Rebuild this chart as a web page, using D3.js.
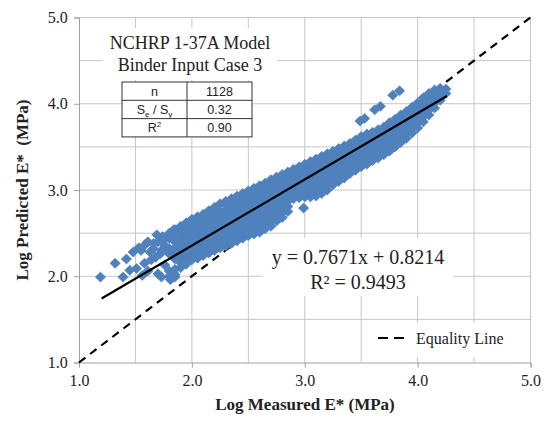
<!DOCTYPE html>
<html>
<head>
<meta charset="utf-8">
<script src="https://cdn.jsdelivr.net/npm/d3@7"></script>
<style>
  body { margin: 0; background: #fff; }
</style>
</head>
<body>
<svg id="chart"></svg>
<script>
// axis ticks
const xTicks = [1, 2, 3, 4, 5];
const yTicks = [1, 2, 3, 4, 5];
const gridVals = [1.5, 2, 2.5, 3, 3.5, 4, 4.5, 5];

// sparse points at the low end (measured, predicted)
const sparseMeasured = [1.19, 1.32, 1.42, 1.45, 1.39, 1.48, 1.51, 1.53, 1.55, 1.56, 1.58, 1.58, 1.61, 1.61, 1.64, 1.66, 1.69, 1.70, 1.73, 1.73, 1.75, 1.76, 1.79, 1.81, 1.84, 1.85, 1.63, 1.66, 1.68, 1.70, 1.72, 1.74, 1.76, 1.78];
const sparsePredicted = [1.99, 2.15, 2.20, 2.07, 1.99, 2.28, 2.09, 2.33, 2.30, 2.01, 2.15, 2.36, 2.06, 2.40, 2.19, 2.38, 2.48, 2.03, 1.99, 2.30, 2.42, 2.13, 2.46, 1.96, 2.54, 1.99, 2.28, 2.32, 2.22, 2.40, 2.26, 2.46, 2.36, 2.30];

// dense band, read column by column (measured value -> predicted values)
const bandMeasured = [1.80, 1.85, 1.90, 1.95, 2.00, 2.05, 2.10, 2.15, 2.20, 2.25, 2.30, 2.35, 2.40, 2.45, 2.50, 2.55, 2.60, 2.65, 2.70, 2.75, 2.80, 2.85, 2.90, 2.95, 3.00, 3.05, 3.10, 3.15, 3.20, 3.25, 3.30, 3.35, 3.40, 3.45, 3.50, 3.55, 3.60, 3.65, 3.70, 3.75, 3.80, 3.85, 3.90, 3.95, 4.00, 4.05, 4.10, 4.15, 4.20, 4.25];
const bandPredicted = [
  [2.00, 2.06, 2.26, 2.32, 2.44, 2.50],
  [2.02, 2.08, 2.20, 2.27, 2.33, 2.40, 2.47, 2.54],
  [2.10, 2.16, 2.22, 2.28, 2.34, 2.40, 2.46, 2.52, 2.58],
  [2.14, 2.20, 2.26, 2.32, 2.38, 2.44, 2.50, 2.56, 2.62],
  [2.19, 2.25, 2.31, 2.37, 2.43, 2.49, 2.55, 2.61, 2.66],
  [2.21, 2.27, 2.33, 2.39, 2.45, 2.51, 2.57, 2.63, 2.69],
  [2.24, 2.30, 2.36, 2.42, 2.48, 2.54, 2.60, 2.66, 2.72],
  [2.27, 2.33, 2.39, 2.45, 2.51, 2.57, 2.63, 2.69, 2.76],
  [2.30, 2.36, 2.42, 2.48, 2.54, 2.60, 2.66, 2.72, 2.80],
  [2.33, 2.39, 2.45, 2.51, 2.57, 2.63, 2.69, 2.75, 2.84],
  [2.35, 2.41, 2.47, 2.53, 2.59, 2.65, 2.71, 2.77, 2.83, 2.87],
  [2.38, 2.44, 2.50, 2.56, 2.62, 2.68, 2.74, 2.80, 2.86, 2.90],
  [2.41, 2.47, 2.53, 2.59, 2.65, 2.71, 2.77, 2.83, 2.89, 2.93],
  [2.44, 2.50, 2.56, 2.62, 2.68, 2.74, 2.80, 2.86, 2.92, 2.96],
  [2.47, 2.53, 2.59, 2.65, 2.71, 2.77, 2.83, 2.89, 2.95, 2.99],
  [2.49, 2.55, 2.61, 2.67, 2.73, 2.79, 2.85, 2.91, 2.97, 3.02],
  [2.51, 2.57, 2.63, 2.69, 2.75, 2.81, 2.87, 2.93, 2.99, 3.05],
  [2.55, 2.61, 2.67, 2.73, 2.79, 2.85, 2.91, 2.97, 3.03, 3.08],
  [2.58, 2.64, 2.70, 2.76, 2.82, 2.88, 2.94, 3.00, 3.06, 3.12],
  [2.64, 2.70, 2.76, 2.82, 2.88, 2.94, 3.00, 3.06, 3.12, 3.15],
  [2.68, 2.74, 2.80, 2.86, 2.92, 2.98, 3.04, 3.10, 3.15, 3.18],
  [2.75, 2.81, 2.87, 2.93, 2.99, 3.05, 3.11, 3.17, 3.21],
  [2.90, 2.96, 3.02, 3.08, 3.14, 3.20, 3.24],
  [2.91, 2.97, 3.03, 3.09, 3.15, 3.21, 3.27],
  [2.92, 2.98, 3.04, 3.10, 3.16, 3.22, 3.27, 3.30],
  [2.92, 2.98, 3.04, 3.10, 3.16, 3.22, 3.28, 3.33],
  [2.93, 2.99, 3.05, 3.11, 3.17, 3.23, 3.29, 3.36],
  [2.96, 3.02, 3.08, 3.14, 3.20, 3.26, 3.32, 3.39],
  [3.00, 3.06, 3.12, 3.18, 3.24, 3.30, 3.36, 3.42],
  [3.06, 3.12, 3.18, 3.24, 3.30, 3.36, 3.41, 3.45],
  [3.10, 3.16, 3.22, 3.28, 3.34, 3.40, 3.45, 3.48],
  [3.14, 3.20, 3.26, 3.32, 3.38, 3.44, 3.51],
  [3.19, 3.25, 3.31, 3.37, 3.43, 3.49, 3.54],
  [3.23, 3.29, 3.35, 3.41, 3.47, 3.53, 3.58],
  [3.27, 3.33, 3.39, 3.45, 3.51, 3.57, 3.62],
  [3.30, 3.36, 3.42, 3.48, 3.54, 3.60, 3.65],
  [3.34, 3.40, 3.46, 3.52, 3.58, 3.64, 3.67],
  [3.37, 3.43, 3.49, 3.55, 3.61, 3.67, 3.70],
  [3.41, 3.47, 3.53, 3.59, 3.65, 3.70, 3.73],
  [3.45, 3.51, 3.57, 3.63, 3.69, 3.75, 3.78],
  [3.50, 3.56, 3.62, 3.68, 3.74, 3.80, 3.82],
  [3.55, 3.61, 3.67, 3.73, 3.79, 3.85, 3.87],
  [3.60, 3.66, 3.72, 3.78, 3.84, 3.91],
  [3.66, 3.72, 3.78, 3.84, 3.90, 3.96],
  [3.72, 3.78, 3.84, 3.90, 3.96, 4.01],
  [3.79, 3.85, 3.91, 3.97, 4.03, 4.07],
  [3.87, 3.93, 3.99, 4.05, 4.12],
  [3.95, 4.01, 4.07, 4.13, 4.16],
  [4.04, 4.10, 4.16, 4.18],
  [4.12, 4.17]
];

// isolated points off the band
const outlierMeasured = [2.99, 3.49, 3.53, 3.62, 3.67, 3.78, 3.84];
const outlierPredicted = [2.79, 3.80, 3.83, 3.93, 3.97, 4.10, 4.15];

// trendline from the fitted equation, over the measured range
const trendSlope = 0.7671;
const trendIntercept = 0.8214;
const trendRange = [1.2, 4.26];
const equalityRange = [1, 5];

const width = 544, height = 423;
const plot = { left: 79, top: 17.5, right: 530.5, bottom: 362.5 };
const serif = "Liberation Serif, Times New Roman, serif";
const sans = "Liberation Sans, Arial, sans-serif";
const blue = "#4f81bd";

const svg = d3.select("#chart").attr("width", width).attr("height", height)
  .attr("font-family", serif);

const x = d3.scaleLinear().domain([1, 5]).range([plot.left, plot.right]);
const y = d3.scaleLinear().domain([1, 5]).range([plot.bottom, plot.top]);

// gridlines
const grid = svg.append("g").attr("stroke", "#c6c6c6").attr("stroke-width", 1);
grid.selectAll(".gx").data(gridVals).enter().append("line")
  .attr("x1", d => x(d)).attr("x2", d => x(d))
  .attr("y1", plot.top).attr("y2", plot.bottom);
grid.selectAll(".gy").data(gridVals).enter().append("line")
  .attr("x1", plot.left).attr("x2", plot.right)
  .attr("y1", d => y(d)).attr("y2", d => y(d));

// axes
const xAxis = d3.axisBottom(x).tickValues(xTicks).tickSize(5).tickFormat(d3.format(".1f"));
const yAxis = d3.axisLeft(y).tickValues(yTicks).tickSize(5).tickFormat(d3.format(".1f"));

const gx = svg.append("g").attr("transform", `translate(0,${plot.bottom})`).call(xAxis);
const gy = svg.append("g").attr("transform", `translate(${plot.left},0)`).call(yAxis);
[gx, gy].forEach(g => {
  g.attr("font-family", serif).attr("font-size", 16);
  g.select(".domain").attr("stroke", "#a0a0a0");
  g.selectAll(".tick line").attr("stroke", "#a0a0a0");
  g.selectAll(".tick text").attr("fill", "#222");
});
gx.selectAll(".tick text").attr("dy", "0.95em");
gy.selectAll(".tick text").attr("dx", "-0.2em");

// equality line (under the points)
svg.append("line")
  .attr("x1", x(equalityRange[0])).attr("y1", y(equalityRange[0]))
  .attr("x2", x(equalityRange[1])).attr("y2", y(equalityRange[1]))
  .attr("stroke", "#000").attr("stroke-width", 2.2)
  .attr("stroke-dasharray", "8,6");

// scatter points
const points = [];
sparseMeasured.forEach((m, i) => points.push([m, sparsePredicted[i]]));
bandMeasured.forEach((m, i) => bandPredicted[i].forEach(p => points.push([m, p])));
outlierMeasured.forEach((m, i) => points.push([m, outlierPredicted[i]]));

svg.append("g").selectAll("path").data(points).enter().append("path")
  .attr("d", "M0,-5L5.2,0L0,5L-5.2,0Z")
  .attr("transform", d => `translate(${x(d[0])},${y(d[1])})`)
  .attr("fill", blue).attr("stroke", blue).attr("stroke-width", 0.6);

// trendline
svg.append("line")
  .attr("x1", x(trendRange[0])).attr("y1", y(trendSlope * trendRange[0] + trendIntercept))
  .attr("x2", x(trendRange[1])).attr("y2", y(trendSlope * trendRange[1] + trendIntercept))
  .attr("stroke", "#000").attr("stroke-width", 2.2);

// title box
svg.append("rect").attr("x", 103).attr("y", 28).attr("width", 174).attr("height", 52).attr("fill", "#fff");
svg.append("text").attr("x", 190).attr("y", 49).attr("text-anchor", "middle")
  .attr("font-size", 18).attr("fill", "#222").text("NCHRP 1-37A Model");
svg.append("text").attr("x", 190).attr("y", 71).attr("text-anchor", "middle")
  .attr("font-size", 18).attr("fill", "#222").text("Binder Input Case 3");

// stats table
const tableValues = ["1128", "0.32", "0.90"];
const tbl = svg.append("g").attr("transform", "translate(122,82)")
  .attr("font-family", sans).attr("font-size", 12.5).attr("fill", "#222");
const rowH = 18.3, colW = 65;
tbl.append("rect").attr("width", colW * 2).attr("height", rowH * 3)
  .attr("fill", "#fff").attr("stroke", "#333").attr("stroke-width", 1);
tbl.append("line").attr("x1", colW).attr("x2", colW).attr("y1", 0).attr("y2", rowH * 3).attr("stroke", "#333");
[1, 2].forEach(r => tbl.append("line").attr("x1", 0).attr("x2", colW * 2)
  .attr("y1", r * rowH).attr("y2", r * rowH).attr("stroke", "#333"));
tableValues.forEach((v, i) => {
  tbl.append("text").attr("x", colW * 1.5).attr("y", i * rowH + 13.5)
    .attr("text-anchor", "middle").text(v);
});
// label cells (with sub/superscripts)
tbl.append("text").attr("x", colW / 2).attr("y", 13.5).attr("text-anchor", "middle").text("n");
const lab1 = tbl.append("text").attr("x", colW / 2).attr("y", rowH + 13.5).attr("text-anchor", "middle");
lab1.append("tspan").text("S");
lab1.append("tspan").attr("font-size", 8).attr("dy", 3).text("e");
lab1.append("tspan").attr("dy", -3).text(" / S");
lab1.append("tspan").attr("font-size", 8).attr("dy", 3).text("y");
const lab2 = tbl.append("text").attr("x", colW / 2).attr("y", rowH * 2 + 13.5).attr("text-anchor", "middle");
lab2.append("tspan").text("R");
lab2.append("tspan").attr("font-size", 8).attr("dy", -5).text("2");

// equation box
svg.append("rect").attr("x", 263).attr("y", 238).attr("width", 190).attr("height", 58).attr("fill", "#fff");
svg.append("text").attr("x", 358).attr("y", 264).attr("text-anchor", "middle")
  .attr("font-size", 20).attr("fill", "#222")
  .text(`y = ${trendSlope}x + ${trendIntercept}`);
svg.append("text").attr("x", 358).attr("y", 289).attr("text-anchor", "middle")
  .attr("font-size", 20).attr("fill", "#222").text("R² = 0.9493");

// legend
svg.append("rect").attr("x", 362).attr("y", 323).attr("width", 166).attr("height", 34).attr("fill", "#fff");
svg.append("line").attr("x1", 378).attr("x2", 408).attr("y1", 338).attr("y2", 338)
  .attr("stroke", "#000").attr("stroke-width", 2.2).attr("stroke-dasharray", "10,6");
svg.append("text").attr("x", 416).attr("y", 343.5).attr("font-size", 16).attr("fill", "#222").text("Equality Line");

// axis titles
svg.append("text").attr("x", 305).attr("y", 410).attr("text-anchor", "middle")
  .attr("font-size", 17).attr("font-weight", "bold").attr("fill", "#222")
  .text("Log Measured E* (MPa)");
svg.append("text").attr("transform", "translate(28,190) rotate(-90)").attr("text-anchor", "middle")
  .attr("font-size", 17).attr("font-weight", "bold").attr("fill", "#222")
  .attr("xml:space", "preserve").style("white-space", "pre")
  .text("Log Predicted E*  (MPa)");
</script>
</body>
</html>
